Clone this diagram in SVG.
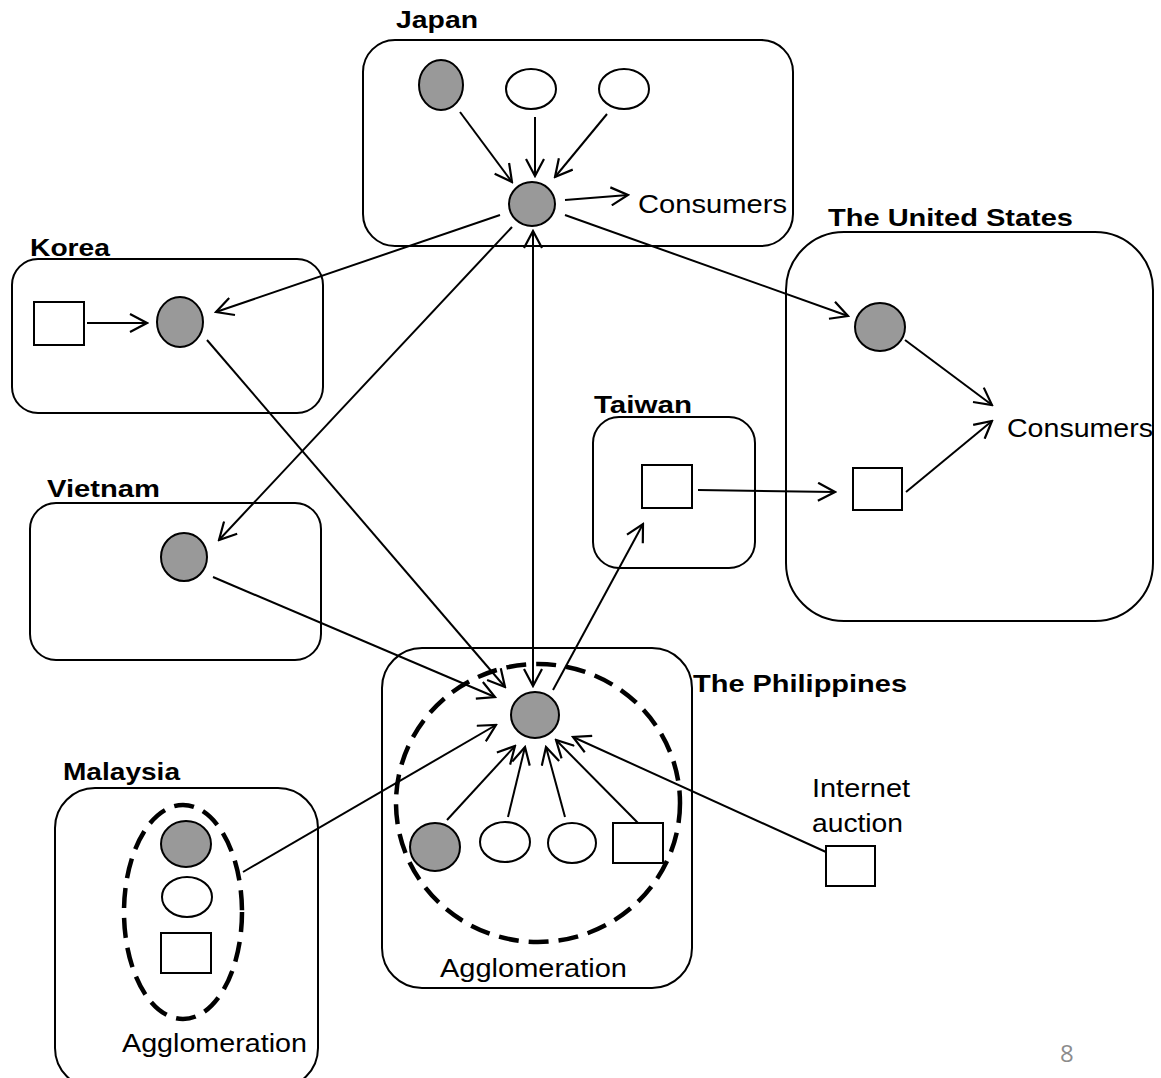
<svg xmlns="http://www.w3.org/2000/svg" width="1161" height="1078" viewBox="0 0 1161 1078">
<style>
.box{fill:none;stroke:#000;stroke-width:2}
.g{fill:#999;stroke:#000;stroke-width:2}
.w{fill:#fff;stroke:#000;stroke-width:2}
.dash{fill:none;stroke:#000;stroke-width:4.5;stroke-dasharray:20 10}
.ttl{font-family:"Liberation Sans",Arial,sans-serif;font-weight:bold;font-size:24px;fill:#000}
.lbl{font-family:"Liberation Sans",Arial,sans-serif;font-size:25px;fill:#000}
.c line{stroke:#000;stroke-width:2;fill:none}
.c .a{marker-end:url(#ah)}
</style>
<defs>
<marker id="ah" viewBox="0 0 20 20" refX="18" refY="10" markerWidth="20" markerHeight="20" markerUnits="userSpaceOnUse" orient="auto-start-reverse">
<path d="M1,1 L18,10 L1,19" fill="none" stroke="#000" stroke-width="2.2"/>
</marker>
</defs>
<rect width="1161" height="1078" fill="#fff"/>

<g id="japan">
<rect class="box" x="363" y="40" width="430" height="206" rx="32"/>
<text class="ttl" x="396" y="28" textLength="82" lengthAdjust="spacingAndGlyphs">Japan</text>
<ellipse class="g" cx="441" cy="85" rx="22" ry="25"/>
<ellipse class="w" cx="531" cy="89" rx="25" ry="20"/>
<ellipse class="w" cx="624" cy="89" rx="25" ry="20"/>
<ellipse class="g" cx="532" cy="204" rx="23" ry="22"/>
<text class="lbl" x="638" y="213" textLength="149" lengthAdjust="spacingAndGlyphs">Consumers</text>
</g>

<g id="korea">
<rect class="box" x="12" y="259" width="311" height="154" rx="26"/>
<text class="ttl" x="30" y="256" textLength="80" lengthAdjust="spacingAndGlyphs">Korea</text>
<rect class="w" x="34" y="302" width="50" height="43"/>
<ellipse class="g" cx="180" cy="322" rx="23" ry="25"/>
</g>

<g id="vietnam">
<rect class="box" x="30" y="503" width="291" height="157" rx="26"/>
<text class="ttl" x="47" y="497" textLength="113" lengthAdjust="spacingAndGlyphs">Vietnam</text>
<ellipse class="g" cx="184" cy="557" rx="23" ry="24"/>
</g>

<g id="taiwan">
<rect class="box" x="593" y="417" width="162" height="151" rx="26"/>
<text class="ttl" x="594" y="413" textLength="98" lengthAdjust="spacingAndGlyphs">Taiwan</text>
<rect class="w" x="642" y="465" width="50" height="43"/>
</g>

<g id="us">
<rect class="box" x="786" y="232" width="367" height="389" rx="58"/>
<text class="ttl" x="828" y="226" textLength="245" lengthAdjust="spacingAndGlyphs">The United States</text>
<ellipse class="g" cx="880" cy="327" rx="25" ry="24"/>
<rect class="w" x="853" y="468" width="49" height="42"/>
<text class="lbl" x="1007" y="437" textLength="146" lengthAdjust="spacingAndGlyphs">Consumers</text>
</g>

<g id="philippines">
<rect class="box" x="382" y="648" width="310" height="340" rx="40"/>
<text class="ttl" x="693" y="692" textLength="214" lengthAdjust="spacingAndGlyphs">The Philippines</text>
<ellipse class="dash" cx="538" cy="803" rx="142" ry="139"/>
<ellipse class="g" cx="535" cy="715" rx="24" ry="23"/>
<ellipse class="g" cx="435" cy="847" rx="25" ry="24"/>
<ellipse class="w" cx="505" cy="842" rx="25" ry="20"/>
<ellipse class="w" cx="572" cy="843" rx="24" ry="20"/>
<rect class="w" x="613" y="823" width="50" height="40"/>
<text class="lbl" x="440" y="977" textLength="187" lengthAdjust="spacingAndGlyphs">Agglomeration</text>
</g>

<g id="malaysia">
<rect class="box" x="55" y="788" width="263" height="300" rx="40"/>
<text class="ttl" x="63" y="780" textLength="117" lengthAdjust="spacingAndGlyphs">Malaysia</text>
<ellipse class="dash" cx="183" cy="912" rx="59" ry="107"/>
<ellipse class="g" cx="186" cy="844" rx="25" ry="23"/>
<ellipse class="w" cx="187" cy="897" rx="25" ry="20"/>
<rect class="w" x="161" y="933" width="50" height="40"/>
<text class="lbl" x="122" y="1052" textLength="185" lengthAdjust="spacingAndGlyphs">Agglomeration</text>
</g>

<g id="internet-auction">
<text class="lbl" x="812" y="797" textLength="98" lengthAdjust="spacingAndGlyphs">Internet</text>
<text class="lbl" x="812" y="832" textLength="91" lengthAdjust="spacingAndGlyphs">auction</text>
<rect class="w" x="826" y="846" width="49" height="40"/>
</g>

<g id="connectors" class="c">
<line class="a" x1="460" y1="112" x2="512" y2="182"/>
<line class="a" x1="535" y1="117" x2="535" y2="176"/>
<line class="a" x1="607" y1="114" x2="555" y2="177"/>
<line class="a" x1="565" y1="200" x2="628" y2="195"/>
<line class="a" x1="87" y1="323" x2="147" y2="323"/>
<line class="a" x1="500" y1="215" x2="216" y2="312"/>
<line class="a" x1="512" y1="227" x2="219" y2="540"/>
<line class="a" x1="565" y1="215" x2="848" y2="316"/>
<line class="a" x1="533" y1="686" x2="533" y2="231" style="marker-start:url(#ah)"/>
<line class="a" x1="207" y1="340" x2="505" y2="687"/>
<line class="a" x1="213" y1="577" x2="495" y2="697"/>
<line class="a" x1="553" y1="690" x2="643" y2="524"/>
<line class="a" x1="698" y1="490" x2="835" y2="492"/>
<line class="a" x1="905" y1="340" x2="992" y2="405"/>
<line class="a" x1="906" y1="492" x2="992" y2="421"/>
<line class="a" x1="243" y1="872" x2="496" y2="725"/>
<line class="a" x1="447" y1="820" x2="515" y2="746"/>
<line class="a" x1="508" y1="817" x2="525" y2="747"/>
<line class="a" x1="565" y1="817" x2="546" y2="747"/>
<line class="a" x1="638" y1="823" x2="556" y2="740"/>
<line class="a" x1="826" y1="852" x2="573" y2="737"/>
</g>

<text x="1060" y="1062" font-family="'Open Sans','DejaVu Sans',sans-serif" font-size="24" fill="#8c8c8c">8</text>
</svg>
